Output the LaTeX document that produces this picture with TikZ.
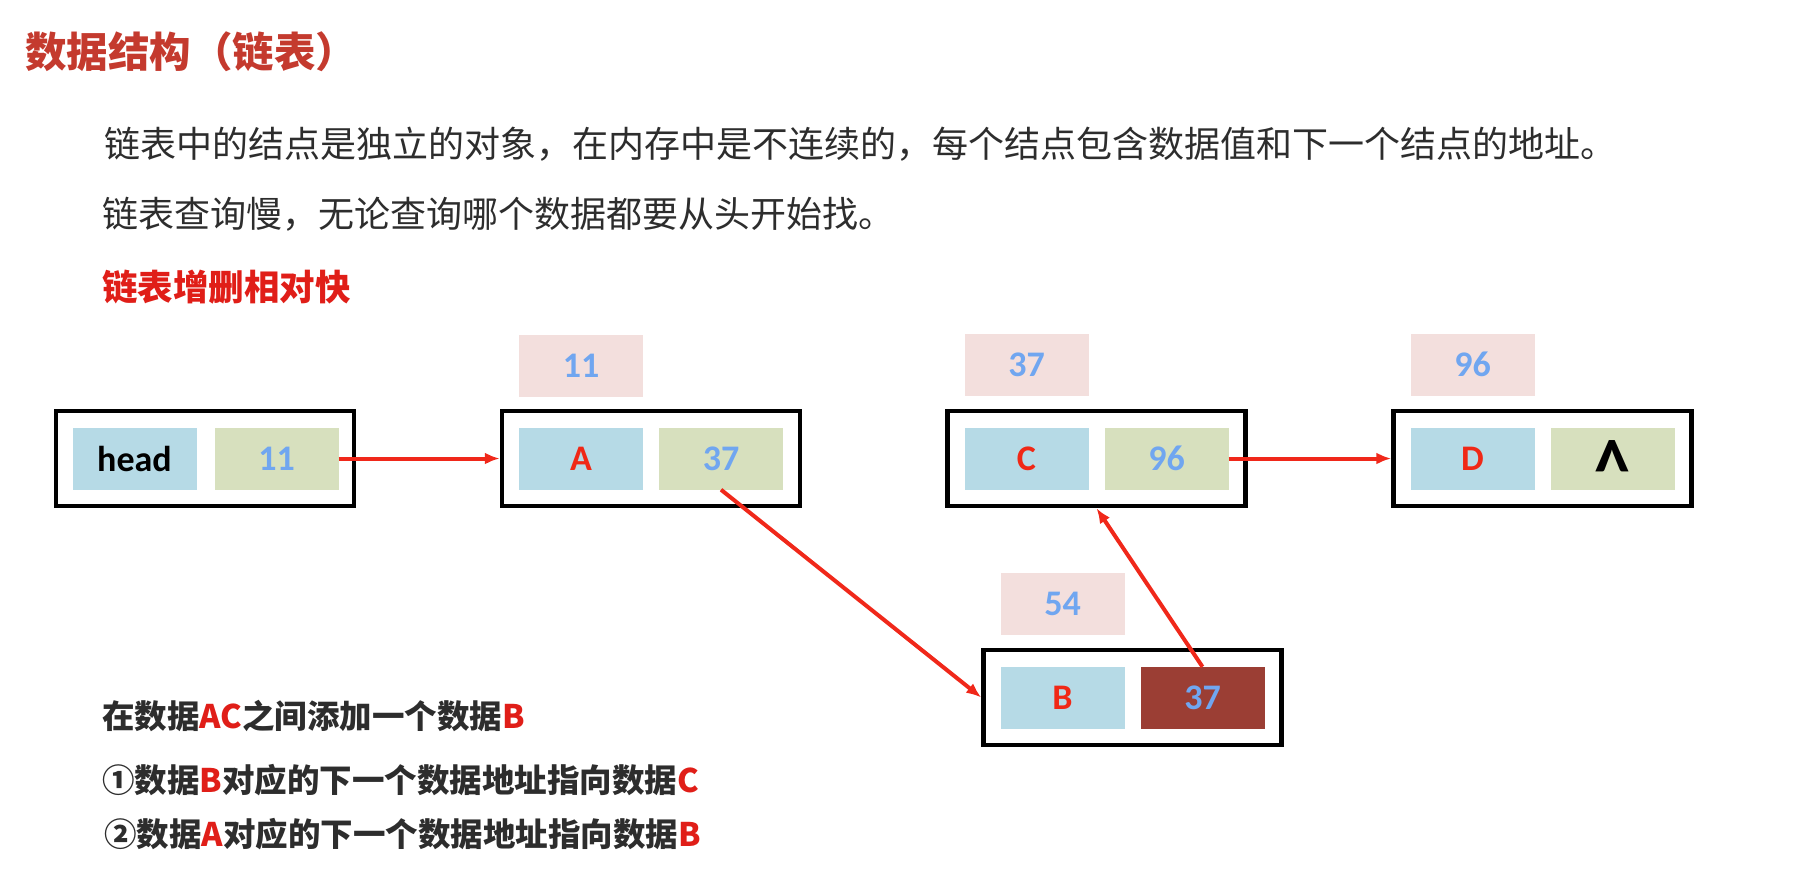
\documentclass[tikz,border=0pt]{standalone}
\usepackage{fontspec}
\usepackage{graphicx}
\usetikzlibrary{arrows.meta}
\newfontfamily\cjk{Noto Sans CJK SC}
\newfontfamily\cellfont{Carlito}
\definecolor{titlered}{RGB}{196,58,46}
\definecolor{bodygray}{RGB}{45,45,45}
\definecolor{hired}{RGB}{224,30,24}
\definecolor{cellblue}{RGB}{182,218,230}
\definecolor{cellgreen}{RGB}{215,224,190}
\definecolor{tagpink}{RGB}{243,223,221}
\definecolor{darkcell}{RGB}{155,62,52}
\definecolor{numblue}{RGB}{112,166,240}
\definecolor{lettred}{RGB}{240,40,22}
\definecolor{arrowred}{RGB}{240,40,26}
\tikzset{
  outerbox/.style={draw=black, line width=4.5pt, minimum width=298pt, minimum height=95pt, inner sep=0pt},
  cellbase/.style={minimum width=124pt, minimum height=62pt, inner sep=0pt, font=\cellfont\bfseries\fontsize{36}{40}\selectfont},
  bluecell/.style={cellbase, fill=cellblue},
  greencell/.style={cellbase, fill=cellgreen, text=numblue},
  darkcellbox/.style={cellbase, fill=darkcell, text=numblue},
  tagbox/.style={cellbase, fill=tagpink, text=numblue},
  linkarrow/.style={draw=arrowred, line width=4pt, -{Latex[length=15pt,width=12pt]}},
  plaintext/.style={anchor=west, inner sep=0pt, font=\cjk\fontsize{36}{40}\selectfont, text=bodygray},
  boldtext/.style={anchor=west, inner sep=0pt, font=\cjk\bfseries\fontsize{32.5}{36}\selectfont, text=bodygray}
}
\begin{document}
\begin{tikzpicture}[x=1pt,y=-1pt]
\useasboundingbox (0,0) rectangle (1812,887);
% texts
\node[anchor=west, inner sep=0pt, font=\cjk\bfseries\fontsize{41.5}{46}\selectfont, text=titlered] (title) at (25,52) {数据结构（链表）};
\node[plaintext] (line1) at (104,144) {链表中的结点是独立的对象，在内存中是不连续的，每个结点包含数据值和下一个结点的地址。};
\node[plaintext] (line2) at (102,214) {链表查询慢，无论查询哪个数据都要从头开始找。};
\node[anchor=west, inner sep=0pt, font=\cjk\bfseries\fontsize{35.5}{40}\selectfont, text=hired] (line3) at (102,287) {链表增删相对快};
% head
\node[outerbox] (headbox) at (205,458.5) {};
\node[bluecell] (h1) at (134.5,458.5) {head};
\node[greencell] (h2) at (276.5,458.5) {11};
% A
\node[outerbox] (abox) at (651,458.5) {};
\node[bluecell, text=lettred] (a1) at (581,458.5) {A};
\node[greencell] (a2) at (721,458.5) {37};
\node[tagbox] (atag) at (581,365.5) {11};
% C
\node[outerbox] (cbox) at (1096.5,458.5) {};
\node[bluecell, text=lettred] (c1) at (1026.5,458.5) {C};
\node[greencell] (c2) at (1166.5,458.5) {96};
\node[tagbox] (ctag) at (1026.5,364.5) {37};
% D
\node[outerbox] (dbox) at (1542.5,458.5) {};
\node[bluecell, text=lettred] (d1) at (1472.5,458.5) {D};
\node[greencell] (d2) at (1612.5,458.5) {};
\node[inner sep=0pt, font=\cellfont\bfseries\fontsize{36}{40}\selectfont, text=black] (caret) at ([yshift=-12pt]d2.center) {\scalebox{2}[2.4]{\textasciicircum}};
\node[tagbox] (dtag) at (1472.5,364.5) {96};
% B
\node[outerbox] (bbox) at (1132.5,697.5) {};
\node[bluecell, text=lettred] (b1) at (1062.5,698) {B};
\node[darkcellbox] (b2) at (1202.5,698) {37};
\node[tagbox] (btag) at (1062.5,603.5) {54};
% arrows
\draw[linkarrow] (h2.east) -- (abox.west);
\draw[linkarrow] (c2.east) -- (dbox.west);
\draw[linkarrow] (a2.south) -- (bbox.west);
\draw[linkarrow] (b2.north) -- (cbox.south);
% bottom text
\node[boldtext] (step0) at (102,716) {在数据\textcolor{hired}{AC}之间添加一个数据\textcolor{hired}{B}};
\node[boldtext] (step1) at (102,780) {①数据\textcolor{hired}{B}对应的下一个数据地址指向数据\textcolor{hired}{C}};
\node[boldtext] (step2) at (104,834) {②数据\textcolor{hired}{A}对应的下一个数据地址指向数据\textcolor{hired}{B}};
\end{tikzpicture}
\end{document}
